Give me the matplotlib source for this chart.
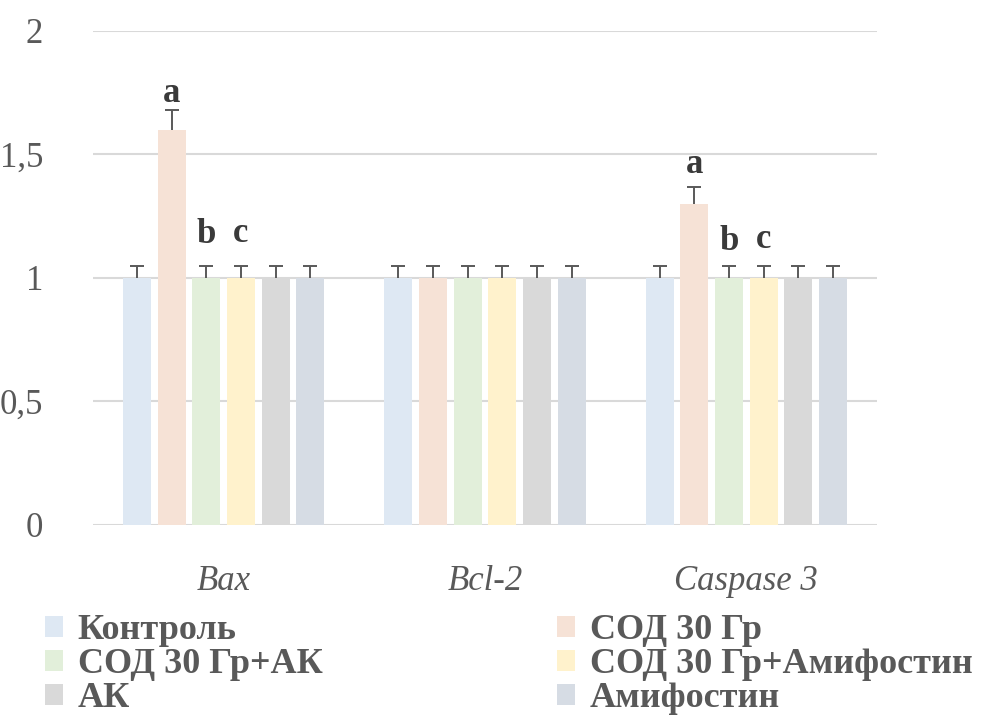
import matplotlib
matplotlib.use("Agg")
import matplotlib.pyplot as plt
import numpy as np
from matplotlib.patches import Patch
from matplotlib import font_manager as fm

categories = ["Bax", "Bcl-2", "Caspase 3"]
series = ["Контроль", "СОД 30 Гр", "СОД 30 Гр+АК", "СОД 30 Гр+Амифостин", "АК", "Амифостин"]
values = [
    [1.0, 1.0, 1.0],
    [1.6, 1.0, 1.3],
    [1.0, 1.0, 1.0],
    [1.0, 1.0, 1.0],
    [1.0, 1.0, 1.0],
    [1.0, 1.0, 1.0],
]
errors = [
    [0.05, 0.05, 0.05],
    [0.08, 0.05, 0.07],
    [0.05, 0.05, 0.05],
    [0.05, 0.05, 0.05],
    [0.05, 0.05, 0.05],
    [0.05, 0.05, 0.05],
]
letters = [
    ["", "", ""],
    ["a", "", "a"],
    ["b", "", "b"],
    ["c", "", "c"],
    ["", "", ""],
    ["", "", ""],
]
letter_y = [
    [0, 0, 0],
    [1.713, 0, 1.425],
    [1.142, 0, 1.113],
    [1.146, 0, 1.121],
    [0, 0, 0],
    [0, 0, 0],
]
colors = ["#DEE8F3", "#F6E2D6", "#E2EFDA", "#FFF2CC", "#D9D9D9", "#D6DCE4"]

FONT = 'Liberation Serif'


def fp(size, weight='normal', style='normal'):
    path = fm.findfont(fm.FontProperties(family=FONT, weight=weight, style=style))
    return fm.FontProperties(fname=path, size=size)


fig = plt.figure(figsize=(10, 7.2), dpi=100)
ax = fig.add_axes([0.093, 0.271, 0.784, 0.686])

x = np.arange(len(categories))
pitch = 0.1325
width = 0.107
n = len(series)
for i in range(n):
    pos = x + (i - (n - 1) / 2) * pitch
    tops = np.array(values[i]) + np.array(errors[i])
    ax.bar(pos, values[i], width=width, color=colors[i], zorder=2)
    ax.vlines(pos, values[i], tops, color='#595959', linewidth=1.4, zorder=3)
    ax.scatter(pos, tops, marker='_', s=110, color='#595959', linewidths=1.4, zorder=3)
    for j, lab in enumerate(letters[i]):
        if lab:
            ax.text(pos[j], letter_y[i][j], lab, ha='center', va='baseline',
                    fontproperties=fp(25, 'bold'), color='#3A3A3A', zorder=4)

ax.set_xlim(-0.5, 2.5)
ax.set_ylim(0, 2)
ax.set_yticks([0, 0.5, 1, 1.5, 2])
ax.set_yticklabels(["0", "0,5", "1", "1,5", "2"], fontproperties=fp(25))
ax.yaxis.grid(True, color='#D9D9D9', linewidth=1.5, zorder=0)
ax.set_axisbelow(True)
for s in ax.spines.values():
    s.set_visible(False)
ax.tick_params(axis='y', length=0, pad=36, labelcolor='#595959')
ax.set_xticks(x)
ax.set_xticklabels(categories, fontproperties=fp(25, 'normal', 'italic'))
ax.tick_params(axis='x', length=0, pad=29, labelcolor='#595959')

order = [0, 2, 4, 1, 3, 5]
handles = [Patch(facecolor=colors[k], edgecolor='none') for k in order]
labels = [series[k] for k in order]
leg = fig.legend(handles, labels, ncol=2, loc='upper left', bbox_to_anchor=(0.045, 0.147),
                 frameon=False, prop=fp(26, 'bold'),
                 handlelength=0.5, handleheight=0.5, handletextpad=0.4,
                 columnspacing=6.5, labelspacing=0.03, borderpad=0, borderaxespad=0)
for t in leg.get_texts():
    t.set_color('#595959')

fig.savefig("out.png", dpi=100)
